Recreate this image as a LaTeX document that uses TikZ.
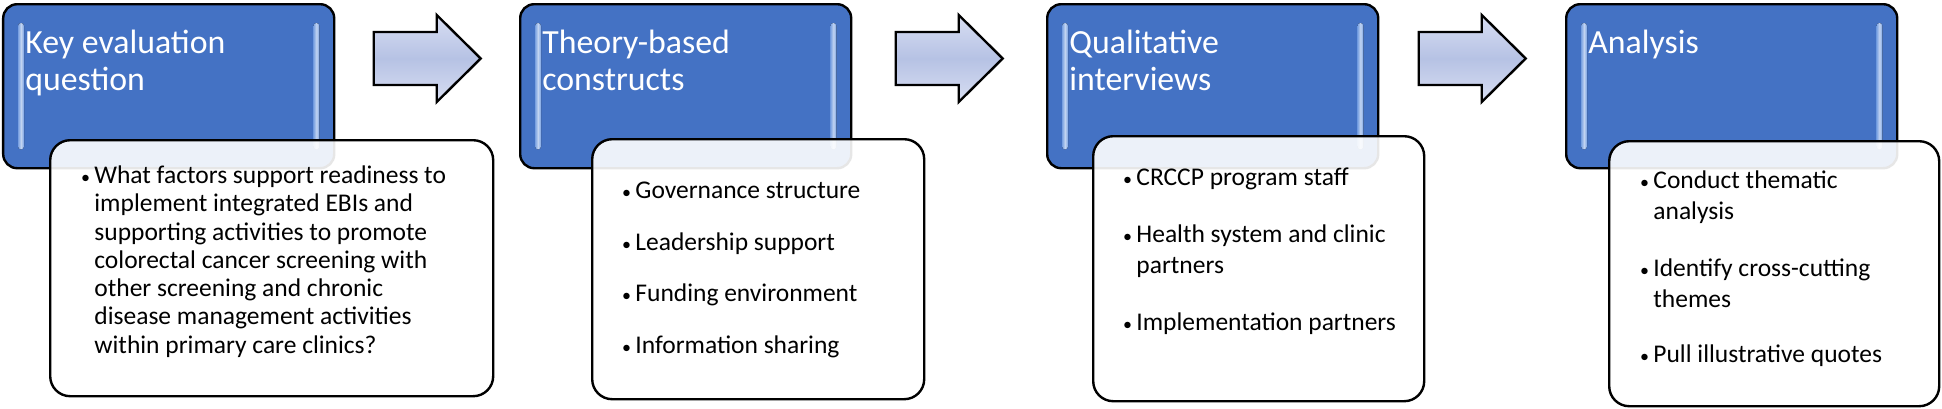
\documentclass[tikz,border=0pt]{standalone}
\usepackage{fontspec}
\setmainfont{Carlito}
\usetikzlibrary{positioning,calc}

\definecolor{boxblue}{RGB}{68,114,196}
\definecolor{glossblue}{RGB}{120,160,225}
\definecolor{arrowtop}{RGB}{216,222,242}
\definecolor{arrowmid}{RGB}{182,194,228}

\newcommand{\bulitem}{\makebox[7.5pt][l]{\hspace{0.8pt}{\fontsize{9}{9}\selectfont\textbullet}}}
\newcommand{\itemind}{\hspace*{7.5pt}}

\begin{document}
\begin{tikzpicture}[x=0.5pt,y=-0.5pt,
  bluebox/.style={draw=black,line width=1.2pt,fill=boxblue,rounded corners=7pt,
    anchor=north west,inner sep=0pt,minimum width=165.5pt,minimum height=82pt},
  listbox/.style={draw=black,line width=1.2pt,fill=white,fill opacity=0.9,
    rounded corners=10pt,anchor=north west,inner sep=0pt},
  titletext/.style={text=white,font=\fontsize{16.9}{18.5}\selectfont,align=left,inner sep=0pt},
  listtext/.style={font=\fontsize{12.75}{15.5}\selectfont,align=left,inner sep=0pt},
  gloss/.style={left color=glossblue,right color=glossblue,middle color=white!55!glossblue,
    rounded corners=1.5pt},
  blockarrow/.style={draw=black,line width=1.2pt,top color=arrowtop,bottom color=arrowtop,
    middle color=arrowmid}]
\useasboundingbox (0,0) rectangle (1942,408);

% blue step boxes
\node[bluebox] (keyq) at (2,3) {};
\node[bluebox] (theory) at (519,3) {};
\node[bluebox] (interv) at (1046,3) {};
\node[bluebox] (anal) at (1565,3) {};

% glossy edges
\foreach \b in {keyq,theory,interv,anal} {
  \fill[gloss] ($(\b.north west)+(8pt,-10pt)$) rectangle ($(\b.south west)+(11pt,10pt)$);
  \fill[gloss] ($(\b.north east)+(-11pt,-10pt)$) rectangle ($(\b.south east)+(-8pt,10pt)$);
}

% block arrows between the steps
\foreach \a/\c in {keyq/theory,theory/interv,interv/anal} {
  \coordinate (m) at ($(\a.north east)!0.5!(\c.north west)$);
  \draw[blockarrow] ($(m)+(-53.5,29)$) -- ++(63,0) -- ++(0,-17)
    -- ($(m)+(53.5,55.5)$) -- ($(m)+(9.5,99)$) -- ++(0,-17)
    -- ($(m)+(-53.5,82)$) -- cycle;
}

% white detail boxes
\node[listbox,minimum width=221.5pt,minimum height=128pt] (keyqlist) at (49,139) {};
\node[listbox,minimum width=166pt,minimum height=130pt] (theorylist) at (591,138) {};
\node[listbox,minimum width=165.5pt,minimum height=132.5pt] (intervlist) at (1092,135) {};
\node[listbox,minimum width=165pt,minimum height=132.5pt] (anallist) at (1608,140) {};

% titles
\node[titletext,below right=12.05pt and 11.5pt of keyq.north west] (keyqtitle)
  {\strut Key evaluation\\question};
\node[titletext,below right=12.05pt and 11.5pt of theory.north west] (theorytitle)
  {\strut Theory-based\\constructs};
\node[titletext,below right=12.05pt and 11.5pt of interv.north west] (intervtitle)
  {\strut Qualitative\\interviews};
\node[titletext,below right=12.05pt and 11.5pt of anal.north west] (analtitle)
  {\strut Analysis};

% bullet lists
\node[listtext,font=\fontsize{12.75}{14.15}\selectfont,
  below right=12.1pt and 15pt of keyqlist.north west] (keyqtext)
  {\strut\bulitem What factors support readiness to\\
   \itemind implement integrated EBIs and\\
   \itemind supporting activities to promote\\
   \itemind colorectal cancer screening with\\
   \itemind other screening and chronic\\
   \itemind disease management activities\\
   \itemind within primary care clinics?};
\node[listtext,below right=19.15pt and 14.5pt of theorylist.north west] (theorytext)
  {\strut\bulitem Governance structure\\[10.3pt]
   \bulitem Leadership support\\[10.3pt]
   \bulitem Funding environment\\[10.3pt]
   \bulitem Information sharing};
\node[listtext,below right=14.15pt and 14.5pt of intervlist.north west] (intervtext)
  {\strut\bulitem CRCCP program staff\\[13pt]
   \bulitem Health system and clinic\\
   \itemind partners\\[13pt]
   \bulitem Implementation partners};
\node[listtext,below right=13.15pt and 15pt of anallist.north west] (analtext)
  {\strut\bulitem Conduct thematic\\
   \itemind analysis\\[13pt]
   \bulitem Identify cross-cutting\\
   \itemind themes\\[12pt]
   \bulitem Pull illustrative quotes};
\end{tikzpicture}
\end{document}
